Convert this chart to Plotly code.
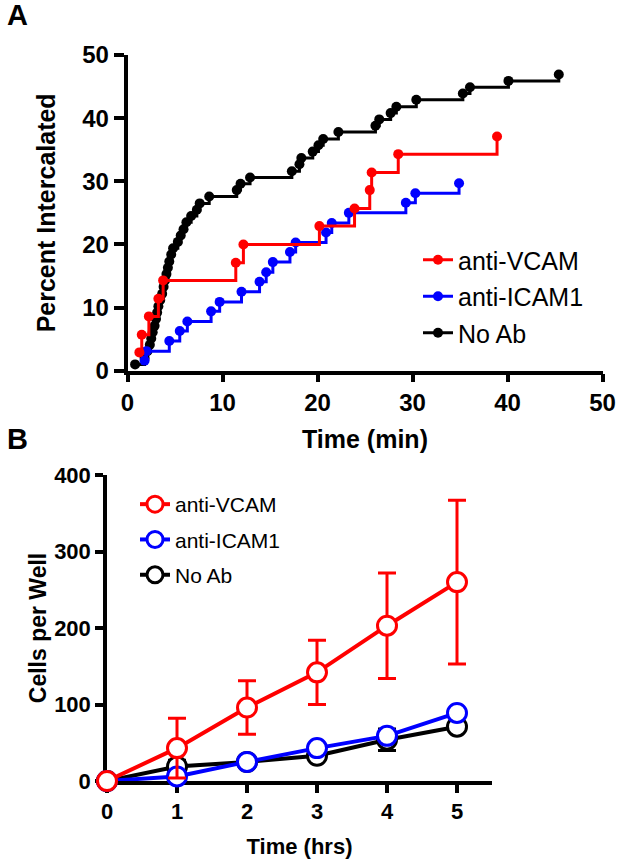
import plotly.graph_objects as go

W, H = 620, 866
FONT = "Liberation Sans, Arial, Helvetica, sans-serif"
RED, BLUE, BLACK = "#ff0000", "#0000ff", "#000000"

# Panel A: event times (min) and cumulative percent intercalated
vcam_t = [1.25, 1.5, 2.25, 3.25, 3.75, 11.4, 12.2, 20.2, 23.9, 25.5, 25.7, 28.5, 38.9]
vcam_pct = [2.9, 5.7, 8.6, 11.4, 14.3, 17.1, 20.0, 22.9, 25.7, 28.6, 31.4, 34.3, 37.1]

icam_t = [1.8, 2.0, 4.4, 5.5, 6.3, 8.8, 9.7, 12.0, 13.9, 14.6, 15.3, 17.1, 17.7,
          20.9, 21.5, 23.3, 29.3, 30.3, 34.9]
icam_pct = [1.6, 3.1, 4.7, 6.3, 7.8, 9.4, 10.9, 12.5, 14.1, 15.6, 17.2, 18.8, 20.3,
            21.9, 23.4, 25.0, 26.6, 28.1, 29.7]

noab_t = [0.8, 1.8, 2.1, 2.35, 2.5, 2.65, 2.85, 3.0, 3.12, 3.25, 3.45, 3.65, 3.8,
          3.95, 4.1, 4.25, 4.4, 4.6, 4.8, 5.3, 5.6, 5.9, 6.2, 6.7, 7.3, 7.6, 8.6,
          11.5, 11.9, 12.9, 17.3, 18.1, 18.3, 19.5, 20.1, 20.6, 22.2, 26.1, 26.5,
          27.7, 28.3, 30.4, 35.3, 36.05, 40.1, 45.4]
noab_pct = [1.0, 2.0, 3.1, 4.1, 5.1, 6.1, 7.1, 8.2, 9.2, 10.2, 11.2, 12.2, 13.3,
            14.3, 15.3, 16.3, 17.3, 18.4, 19.4, 20.4, 21.4, 22.4, 23.5, 24.5, 25.5,
            26.5, 27.6, 28.6, 29.6, 30.6, 31.6, 32.7, 33.7, 34.7, 35.7, 36.7, 37.8,
            38.8, 39.8, 40.8, 41.8, 42.9, 43.9, 44.9, 45.9, 46.9]

# Panel B: cells per well over time (mean +/- error)
hours = [0, 1, 2, 3, 4, 5]
vcam_cells = [0, 43, 96, 142, 203, 260]
vcam_err = [0, 39, 35, 42, 69, 107]
icam_cells = [0, 6, 25, 43, 59, 89]
icam_err = [0, 3, 3, 3, 4, 4]
noab_cells = [0, 19, 25, 33, 54, 71]
noab_err = [0, 8, 3, 3, 14, 4]

fig = go.Figure()

# draw order black, blue, red (red on top); legend order via legendrank
for t, p, c, name, rank in [(noab_t, noab_pct, BLACK, "No Ab", 3),
                            (icam_t, icam_pct, BLUE, "anti-ICAM1", 2),
                            (vcam_t, vcam_pct, RED, "anti-VCAM", 1)]:
    fig.add_trace(go.Scatter(
        x=t, y=p, mode="lines+markers", name=name,
        line=dict(color=c, width=3, shape="hv"),
        marker=dict(color=c, size=10),
        legend="legend", legendgroup="a" + name, legendrank=rank,
        cliponaxis=False, xaxis="x", yaxis="y",
    ))

for y, e, c, name, rank in [(noab_cells, noab_err, BLACK, "No Ab", 3),
                            (icam_cells, icam_err, BLUE, "anti-ICAM1", 2),
                            (vcam_cells, vcam_err, RED, "anti-VCAM", 1)]:
    fig.add_trace(go.Scatter(
        x=hours, y=y, mode="lines+markers", name=name,
        line=dict(color=c, width=4),
        marker=dict(color="white", size=19, symbol="circle",
                    line=dict(color=c, width=3)),
        error_y=dict(type="data", array=e, color=c, thickness=3, width=9),
        legend="legend2", legendgroup="b" + name, legendrank=rank,
        cliponaxis=False, xaxis="x2", yaxis="y2",
    ))

axis_common = dict(
    showline=True, linecolor="black", linewidth=3.5,
    ticks="outside", tickwidth=3.5, tickcolor="black",
    showgrid=False, zeroline=False, automargin=False,
)


def bold_font(size):
    return dict(family=FONT, size=size, color="black", weight="bold")


fig.update_layout(
    template="none",
    width=W, height=H,
    paper_bgcolor="white", plot_bgcolor="white",
    margin=dict(l=0, r=0, t=0, b=0),
    font=dict(family=FONT, color="black"),
    showlegend=True,
    xaxis=dict(axis_common, domain=[127.5 / W, 602.5 / W], range=[0, 50], dtick=10,
               anchor="y", ticklen=8,
               title=dict(text="Time (min)", standoff=16, font=bold_font(25)),
               tickfont=bold_font(24)),
    yaxis=dict(axis_common, domain=[1 - 370.7 / H, 1 - 55 / H], range=[0, 50], dtick=10,
               anchor="x", ticklen=10,
               title=dict(text="Percent Intercalated", standoff=20, font=bold_font(25)),
               tickfont=bold_font(24)),
    xaxis2=dict(axis_common, domain=[107 / W, 492 / W], range=[0, 5.5],
                tickvals=hours, anchor="y2", layer="below traces", ticklen=8,
                title=dict(text="Time (hrs)", standoff=16, font=bold_font(22)),
                tickfont=bold_font(22)),
    yaxis2=dict(axis_common, domain=[1 - 781 / H, 1 - 475 / H], range=[0, 400], dtick=100,
                anchor="x2", layer="below traces", ticklen=8,
                title=dict(text="Cells per Well", standoff=2, font=bold_font(23)),
                tickfont=bold_font(22)),
    legend=dict(x=418 / W, y=1 - 237 / H, xanchor="left", yanchor="top",
                traceorder="grouped", tracegroupgap=1,
                font=dict(family=FONT, size=25, color="black"),
                bgcolor="rgba(0,0,0,0)"),
    legend2=dict(x=135 / W, y=1 - 484 / H, xanchor="left", yanchor="top",
                 traceorder="grouped", tracegroupgap=5,
                 font=dict(family=FONT, size=21, color="black"),
                 bgcolor="rgba(0,0,0,0)"),
    annotations=[
        dict(text="<b>A</b>", x=5 / W, y=1, yshift=3, xref="paper", yref="paper",
             xanchor="left", yanchor="top", showarrow=False,
             font=dict(family=FONT, size=29, color="black")),
        dict(text="<b>B</b>", x=5 / W, y=1 - 421 / H, xref="paper", yref="paper",
             xanchor="left", yanchor="top", showarrow=False,
             font=dict(family=FONT, size=29, color="black")),
    ],
)

fig.write_html("out.html", config={"displayModeBar": False},
               post_script="document.body.style.margin = '0';")
